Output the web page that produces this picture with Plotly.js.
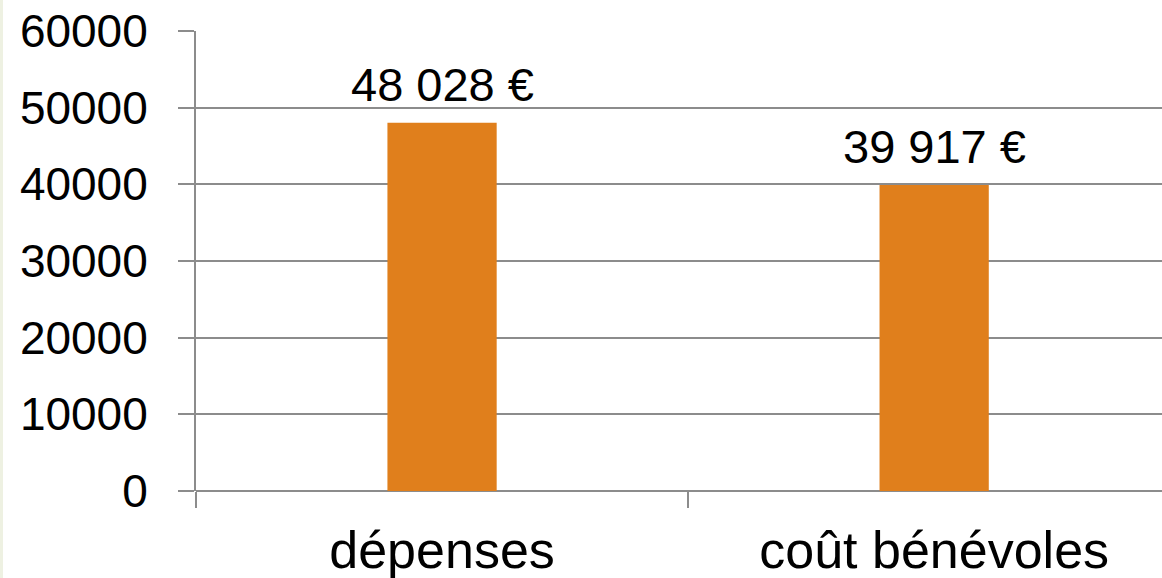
<!DOCTYPE html>
<html>
<head>
<meta charset="utf-8">
<script src="https://cdn.plot.ly/plotly-3.0.1.min.js"></script>
<style>
html,body{margin:0;padding:0;background:#fff;overflow:hidden;}
#chart{width:1162px;height:578px;box-sizing:border-box;border-left:3px solid #eef1e2;}
</style>
</head>
<body>
<div id="chart"></div>
<script>
const categories = ["dépenses", "coût bénévoles"];
const values = [48028, 39917];
const valueLabels = ["48 028 €", "39 917 €"];
const yTickValues = [0, 10000, 20000, 30000, 40000, 50000, 60000];
const yTickLabels = ["0", "10000", "20000", "30000", "40000", "50000", "60000"];

const fontFamily = "Liberation Sans, Arial, sans-serif";
const gridColor = "#8c8c8c";

const trace = {
  type: "bar",
  x: categories,
  y: values,
  width: 0.222,
  marker: {color: "#e07f1c"},
  hoverinfo: "none"
};

const annotations = categories.map((c, i) => ({
  x: c, y: values[i], xref: "x", yref: "y",
  text: valueLabels[i], showarrow: false,
  yanchor: "bottom", yshift: 10,
  font: {family: fontFamily, size: 47, color: "#000"}
}));

const layout = {
  width: 1159, height: 578,
  margin: {l: 193, r: 0, t: 31, b: 87, pad: 0},
  paper_bgcolor: "#fff", plot_bgcolor: "#fff",
  showlegend: false,
  xaxis: {
    type: "category",
    range: [-0.5, 1.463],
    tickson: "boundaries",
    ticks: "outside", ticklen: 16, tickwidth: 2, tickcolor: gridColor,
    showgrid: false, zeroline: false,
    showline: false,
    tickfont: {family: fontFamily, size: 52, color: "#000"},
    ticklabelstandoff: 24
  },
  yaxis: {
    range: [0, 60000],
    tickvals: yTickValues, ticktext: yTickLabels,
    ticks: "outside", ticklen: 16, tickwidth: 2, tickcolor: gridColor,
    showgrid: true, gridcolor: gridColor, gridwidth: 2,
    zeroline: true, zerolinecolor: gridColor, zerolinewidth: 2,
    showline: true, linecolor: gridColor, linewidth: 2,
    tickfont: {family: fontFamily, size: 46, color: "#000"},
    ticklabelstandoff: 21
  },
  annotations: annotations,
  shapes: [{
    type: "line", xref: "paper", yref: "y",
    x0: 0, x1: 0, y0: 0, y1: -2100, line: {color: gridColor, width: 2}
  }]
};

Plotly.newPlot("chart", [trace], layout, {displayModeBar: false, staticPlot: true});
</script>
</body>
</html>
